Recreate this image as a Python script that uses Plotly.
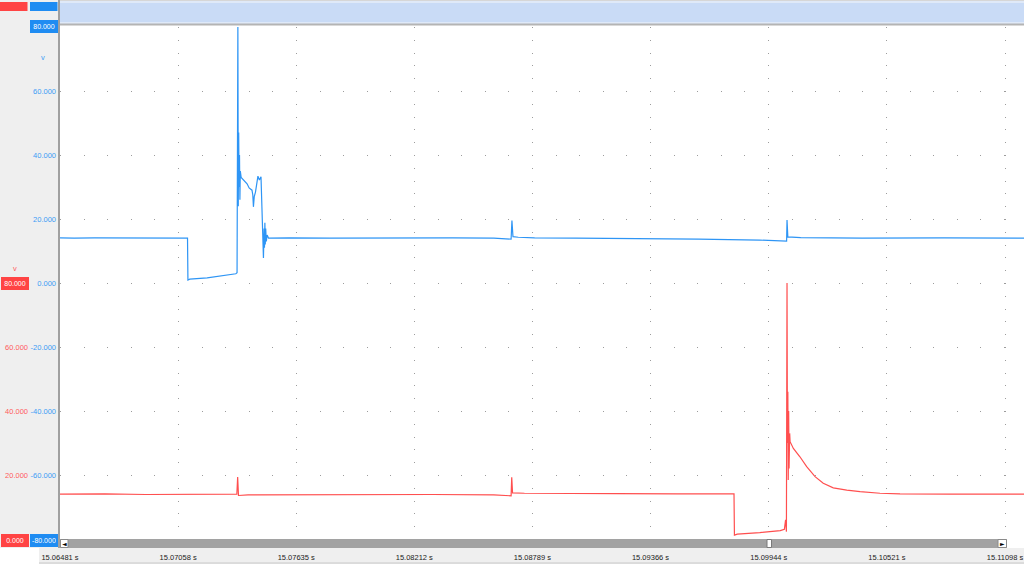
import plotly.graph_objects as go

# ---------------- data ----------------
x_tick_vals = [15.06481, 15.07058, 15.07635, 15.08212, 15.08789, 15.09366, 15.09944, 15.10521, 15.11098]
x_tick_text = ["15.06481 s", "15.07058 s", "15.07635 s", "15.08212 s", "15.08789 s",
               "15.09366 s", "15.09944 s", "15.10521 s", "15.11098 s"]
x_range = [15.06481, 15.111908]

blue_ticks = [-60, -40, -20, 0, 20, 40, 60]
blue_tick_text = ["-60.000", "-40.000", "-20.000", "0.000", "20.000", "40.000", "60.000"]
red_ticks = [20, 40, 60]
red_tick_text = ["20.000", "40.000", "60.000"]

blue_t = [15.06481, 15.06550, 15.06650, 15.06800, 15.06950, 15.07030, 15.07104, 15.07106, 15.07115,
          15.07200, 15.07280, 15.07340, 15.07346, 15.07350, 15.07352, 15.07354, 15.07356, 15.07358,
          15.07360, 15.07362, 15.07366, 15.07380, 15.07395, 15.07405, 15.07419, 15.07423, 15.07426,
          15.07430, 15.07436, 15.07448, 15.07455, 15.07463, 15.07468, 15.07472, 15.07475, 15.07478,
          15.07480, 15.07482, 15.07484, 15.07486, 15.07489, 15.07493, 15.07500, 15.07600, 15.07800,
          15.08000, 15.08200, 15.08400, 15.08600, 15.08640, 15.08685, 15.08689, 15.08694, 15.08720,
          15.08800, 15.09000, 15.09300, 15.09600, 15.09900, 15.10023, 15.10031, 15.10033, 15.10037,
          15.10100, 15.10400, 15.10800, 15.11191]
blue_v = [14.1, 14.0, 14.1, 14.0, 14.1, 14.0, 14.0, 0.9, 1.2,
          1.6, 2.3, 2.9, 3.2, 80.0, 24.0, 47.0, 30.0, 40.0,
          26.0, 35.0, 33.0, 32.0, 31.0, 29.7, 29.0, 27.5, 23.8,
          27.0, 28.4, 33.4, 32.2, 33.2, 18.8, 10.0, 7.8, 17.0,
          11.0, 18.8, 12.0, 17.0, 13.0, 15.0, 14.0, 14.1, 14.0,
          14.1, 14.0, 14.1, 14.0, 13.8, 13.7, 19.5, 14.5, 14.3,
          14.1, 14.0, 13.9, 13.7, 13.4, 12.9, 13.1, 19.7, 14.4,
          14.2, 14.0, 14.1, 14.0]

red_t = [15.06481, 15.06700, 15.06900, 15.07100, 15.07345, 15.07349, 15.07353, 15.07400, 15.07700,
         15.08000, 15.08300, 15.08600, 15.08685, 15.08688, 15.08692, 15.08750, 15.08900, 15.09200,
         15.09500, 15.09774, 15.09776, 15.09790, 15.09900, 15.10000, 15.10020, 15.10026, 15.10030,
         15.10033, 15.10035, 15.10037, 15.10039, 15.10041, 15.10043, 15.10046, 15.10048, 15.10064,
         15.10096, 15.10129, 15.10170, 15.10210, 15.10259, 15.10325, 15.10390, 15.10487, 15.10585,
         15.10829, 15.11191]
red_v = [14.0, 14.1, 13.9, 14.0, 14.0, 19.4, 13.6, 13.8, 13.9,
         13.8, 13.9, 13.8, 13.5, 19.3, 14.4, 14.3, 14.2, 14.2,
         14.1, 14.1, 1.2, 1.5, 2.0, 2.6, 3.0, 6.0, 2.3,
         80.0, 30.0, 46.0, 18.4, 40.0, 22.0, 33.0, 30.4, 28.3,
         25.7, 22.6, 19.5, 17.4, 16.0, 15.3, 14.8, 14.3, 14.1,
         14.0, 14.0]

# ---------------- styling ----------------
W, H = 1024, 564
BLUE = "#2e95f5"
RED = "#ff4f4f"
BLUE_TXT = "#3c9cf5"
RED_TXT = "#ff5c5c"
PANEL = "#efefef"
FONT = "Liberation Sans"
FS = 7.5


def px(x):
    return x / W


def py(y):
    return 1 - y / H


fig = go.Figure()
fig.add_trace(go.Scatter(x=blue_t, y=blue_v, mode="lines", line=dict(color=BLUE, width=1.2),
                         yaxis="y", showlegend=False, hoverinfo="skip"))
fig.add_trace(go.Scatter(x=red_t, y=red_v, mode="lines", line=dict(color=RED, width=1.2),
                         yaxis="y2", showlegend=False, hoverinfo="skip"))

shapes = []
# left panel
shapes.append(dict(type="rect", xref="paper", yref="paper", x0=0, x1=px(59), y0=py(548), y1=1,
                   fillcolor=PANEL, line=dict(width=0), layer="below"))
shapes.append(dict(type="line", xref="paper", yref="paper", x0=px(59), x1=px(59), y0=py(548), y1=1,
                   line=dict(color="#a0a0a0", width=2), layer="below"))
# top swatches
shapes.append(dict(type="rect", xref="paper", yref="paper", x0=px(0), x1=px(27.5), y0=py(11), y1=py(2),
                   fillcolor="#ff4444", line=dict(width=0), layer="below"))
shapes.append(dict(type="rect", xref="paper", yref="paper", x0=px(30), x1=px(57.5), y0=py(11), y1=py(2),
                   fillcolor="#1f8cf2", line=dict(width=0), layer="below"))
# top band
shapes.append(dict(type="rect", xref="paper", yref="paper", x0=px(60), x1=1, y0=py(25), y1=1,
                   fillcolor="#dfe9f8", line=dict(width=0), layer="below"))
shapes.append(dict(type="rect", xref="paper", yref="paper", x0=px(60), x1=1, y0=py(22), y1=py(3),
                   fillcolor="#c9dbf6", line=dict(width=0), layer="below"))
shapes.append(dict(type="line", xref="paper", yref="paper", x0=px(60), x1=1, y0=py(24.5), y1=py(24.5),
                   line=dict(color="#b4b4b4", width=2), layer="below"))
shapes.append(dict(type="line", xref="paper", yref="paper", x0=px(60), x1=1, y0=py(0.5), y1=py(0.5),
                   line=dict(color="#d6d6d6", width=1), layer="below"))
# scrollbar
shapes.append(dict(type="rect", xref="paper", yref="paper", x0=px(60), x1=px(1007), y0=py(548), y1=py(539),
                   fillcolor="#a2a2a2", line=dict(width=0), layer="above"))
shapes.append(dict(type="rect", xref="paper", yref="paper", x0=px(60.5), x1=px(68), y0=py(547.5), y1=py(539.5),
                   fillcolor="#ffffff", line=dict(color="#8a8a8a", width=1), layer="above"))
shapes.append(dict(type="rect", xref="paper", yref="paper", x0=px(998), x1=px(1006.5), y0=py(547.5), y1=py(539.5),
                   fillcolor="#ffffff", line=dict(color="#8a8a8a", width=1), layer="above"))
shapes.append(dict(type="rect", xref="paper", yref="paper", x0=px(767), x1=px(771.5), y0=py(547.5), y1=py(539.5),
                   fillcolor="#ffffff", line=dict(color="#7a7a7a", width=1), layer="above"))
# label row
shapes.append(dict(type="rect", xref="paper", yref="paper", x0=px(39), x1=1, y0=0, y1=py(548),
                   fillcolor=PANEL, line=dict(width=0), layer="below"))
shapes.append(dict(type="line", xref="paper", yref="paper", x0=px(39), x1=1, y0=py(563), y1=py(563),
                   line=dict(color="#c8c8c8", width=1), layer="below"))

annotations = []


def box(text, cx, cy, color, w=27):
    annotations.append(dict(text=text, xref="paper", yref="paper", x=px(cx), y=py(cy),
                            showarrow=False, xanchor="center", yanchor="middle",
                            font=dict(family=FONT, size=7, color="#ffffff"),
                            bgcolor=color, bordercolor=color, borderpad=1, width=w - 3, height=9))


box("80.000", 43.5, 27, "#1f8cf2")
box("-80.000", 43.5, 540.5, "#1f8cf2")
box("80.000", 14.5, 283, "#ff4444")
box("0.000", 14.5, 540.5, "#ff4444")
annotations.append(dict(text="v", xref="paper", yref="paper", x=px(42.5), y=py(58), showarrow=False,
                        font=dict(family=FONT, size=FS, color=BLUE_TXT), xanchor="center", yanchor="middle"))
annotations.append(dict(text="v", xref="paper", yref="paper", x=px(14.5), y=py(268), showarrow=False,
                        font=dict(family=FONT, size=FS, color=RED_TXT), xanchor="center", yanchor="middle"))
annotations.append(dict(text="◄", xref="paper", yref="paper", x=px(64.5), y=py(543.5), showarrow=False,
                        font=dict(family="DejaVu Sans", size=6, color="#000000"), xanchor="center", yanchor="middle"))
annotations.append(dict(text="►", xref="paper", yref="paper", x=px(1002.5), y=py(543.5), showarrow=False,
                        font=dict(family="DejaVu Sans", size=6, color="#000000"), xanchor="center", yanchor="middle"))

fig.update_layout(
    template="none",
    width=W, height=H,
    margin=dict(l=0, r=0, t=0, b=0, pad=0, autoexpand=False),
    paper_bgcolor="#ffffff",
    plot_bgcolor="#ffffff",
    showlegend=False,
    shapes=shapes,
    annotations=annotations,
    xaxis=dict(domain=[px(60), 1], range=x_range, tickvals=x_tick_vals, ticktext=x_tick_text,
               ticks="", showline=False, zeroline=False, showgrid=True, automargin=False,
               gridcolor="#9c9c9c", gridwidth=1, griddash="1px,11.8px",
               tickfont=dict(family=FONT, size=FS, color="#222222"), ticklabelstandoff=12,
               ticklabeloverflow="allow", fixedrange=True),
    yaxis=dict(domain=[py(539), py(27)], range=[-80, 80], tickvals=blue_ticks, ticktext=blue_tick_text,
               ticks="", showline=False, zeroline=False, showgrid=True, automargin=False,
               gridcolor="#9c9c9c", gridwidth=1, griddash="1px,22.6px",
               tickfont=dict(family=FONT, size=FS, color=BLUE_TXT), ticklabelstandoff=3,
               fixedrange=True),
    yaxis2=dict(overlaying="y", anchor="free", position=px(29), side="left", range=[0, 160],
                tickvals=red_ticks, ticktext=red_tick_text, ticks="", showline=False,
                zeroline=False, showgrid=False, automargin=False,
                tickfont=dict(family=FONT, size=FS, color=RED_TXT), ticklabelstandoff=1,
                fixedrange=True),
)

fig.write_html("out.html", config={"displayModeBar": False},
               post_script="document.body.style.margin='0';")
